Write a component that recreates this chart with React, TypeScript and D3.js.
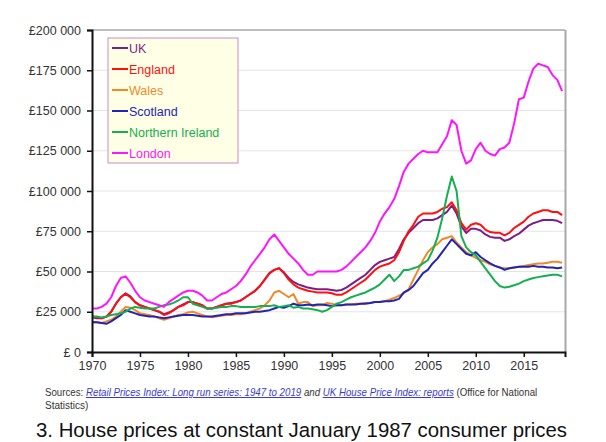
import React, { useEffect, useRef } from 'react';
import * as d3 from 'd3';

// half-yearly readings, 1970.0 .. 2019.0, £ thousands at Jan 1987 prices
const years = d3.range(1970, 2019.01, 0.5);

const uk = [
  21.5, 21, 21, 22, 25, 30, 34, 36.5, 34.5, 31,
  29, 28, 27, 26, 25, 23.5, 24.5, 26, 28, 29.5,
  31, 31, 30, 29, 27, 27, 28, 29, 30, 30.5,
  31, 32, 34, 36, 38, 41, 45, 49, 51, 52,
  49.5, 46, 43.5, 42, 41, 40, 39.5, 39, 39, 39,
  38.5, 38, 38.5, 40, 42, 44, 46, 48, 51, 54,
  56, 57, 58, 59, 64, 70, 74, 77, 80, 82,
  82, 82, 83, 85, 87, 91, 86, 78, 74, 76.5,
  76.5, 75.5, 73, 71.5, 71, 71, 69, 70, 72, 73.5,
  76, 78.5, 80, 81, 82, 82, 82, 81.5, 80,
];
const england = [
  22, 21.5, 21, 22, 25, 30, 34, 36, 34, 31,
  29, 28, 27, 26, 25, 23, 24, 26, 28, 29,
  31, 31, 30, 29, 27, 27, 28, 29, 30, 30,
  31, 32, 34, 36, 38, 41, 45, 49, 51, 52,
  49, 45, 42, 40, 39, 38, 37.5, 37, 37, 37,
  36.5, 35.5, 35.5, 37, 39, 41, 43, 45, 48, 51,
  53, 54, 55, 57, 62, 69, 75, 79, 84, 86,
  86, 86, 87, 89, 90, 93, 88, 80, 76, 79,
  80, 79, 76, 74.5, 74, 74, 72.5, 74, 77, 79,
  81, 84, 86, 87, 88, 88, 87, 87, 85,
];
const wales = [
  18.5, 18.5, 18, 19, 20, 22, 25, 28, 27.5, 26,
  24, 23.5, 23, 22, 21, 20, 21, 22, 23, 23.5,
  24.5, 25, 24, 23, 22, 21.5, 22, 22.5, 23, 23,
  23.5, 23.5, 24, 25, 26, 27, 29, 32, 37, 38,
  36, 34, 36, 30, 31, 31, 28.5, 29, 29, 30.5,
  30, 29, 29, 29.5, 29.5, 30, 30, 30.5, 30.5, 31,
  31, 31.5, 32.5, 33.5, 35, 36.5, 39, 45, 51, 57,
  62, 65, 67, 70, 71, 72, 68, 65, 62, 60,
  58.5, 57, 56, 54.5, 53.5, 52.5, 52, 52, 52.5, 53,
  53.5, 54, 54.5, 55, 55, 55.5, 56, 56, 55.5,
];
const scotland = [
  18.5, 18.5, 18, 17.5, 19, 21, 23, 26, 25, 24,
  23, 22.5, 22, 22, 21.5, 21, 21.5, 22, 22.5, 23,
  23, 23, 22.5, 22, 22, 22, 22.5, 23, 23.5, 23.5,
  24, 24, 24, 24.5, 25, 25, 25.5, 26, 27, 28,
  27.5, 28.5, 30, 29, 29, 29.5, 29, 29.5, 29.5, 29,
  28.5, 29, 29, 29.5, 29.5, 29.5, 30, 30, 30.5, 31,
  31, 31.5, 31.5, 32, 33, 37, 38.5, 41, 45, 49,
  51, 55, 58, 62, 66, 70, 67, 64, 61, 60,
  62, 59, 57, 55, 53.5, 52.5, 51, 52, 52.5, 53,
  53, 53, 53.5, 53, 53, 52.5, 52.5, 52, 52.5,
];
const northernIreland = [
  22, 22, 21.5, 22, 23, 23.5, 24, 25, 27, 28,
  27.5, 27, 27, 27, 28, 29, 29.5, 30.5, 32, 34,
  34, 30, 29, 28, 27, 27, 27.5, 28, 28, 28.5,
  28.5, 28, 28, 28, 28, 28.5, 28.5, 28.5, 29, 28,
  28.5, 29, 27.5, 28, 27, 27, 26.5, 26, 25, 26,
  28, 30, 31, 32.5, 34, 35, 36, 37, 38.5, 40,
  42, 45, 48, 44, 47, 51, 51, 52, 53, 55,
  57, 63, 71, 83, 97, 109, 100, 72, 65, 62,
  60, 56, 52, 48, 44, 41, 40, 40.5, 41.5, 42.5,
  44, 45, 46, 46.5, 47, 47.5, 48, 48, 47,
];
const london = [
  27, 27, 28, 30, 34, 41, 46, 47, 43, 38,
  34, 32, 31, 30, 29, 28, 31, 33, 35, 37,
  38, 38, 37, 35, 32, 32, 34, 36, 37, 39,
  41, 44, 48, 53, 57, 61, 65, 70, 73, 69,
  65, 61, 58, 55, 51, 48, 48, 50, 50, 50,
  50, 50, 51, 53, 56, 59, 62, 65, 69, 74,
  81, 86, 90, 95, 103, 112, 117, 120, 123, 125,
  124, 124, 124, 129, 134, 144, 141, 125, 117, 119,
  126, 130, 125, 123, 122, 126, 127, 130, 142, 157,
  158, 168, 176, 179, 178, 177, 172, 169, 162,
];

const seriesNames = ['UK', 'England', 'Wales', 'Scotland', 'Northern Ireland', 'London'];
const seriesValues = [uk, england, wales, scotland, northernIreland, london];
const seriesColors = ['#7b1f86', '#ff1010', '#ee8a2a', '#2424b4', '#14b050', '#ff14ff'];

const yTicks = [0, 25000, 50000, 75000, 100000, 125000, 150000, 175000, 200000];
const xTicks = [1970, 1975, 1980, 1985, 1990, 1995, 2000, 2005, 2010, 2015];

const fmtMoney = (v: number) =>
  v === 0 ? '£ 0' : '£' + d3.format(',')(v).replace(/,/g, ' ');

const FONT = 'Liberation Sans, Arial, sans-serif';

const App = () => {
  const ref = useRef<SVGSVGElement>(null);

  useEffect(() => {
    const margin = { left: 92, top: 30, right: 41, bottom: 90 };
    const W = 606, H = 442;
    const svg = d3.select(ref.current);
    svg.selectAll('*').remove();

    const x = d3.scaleLinear().domain([1970, 2019.3]).range([margin.left, W - margin.right]);
    const y = d3.scaleLinear().domain([0, 200000]).range([H - margin.bottom, margin.top]);

    // gridlines
    svg.append('g')
      .selectAll('line')
      .data(yTicks.slice(1, -1))
      .join('line')
      .attr('x1', x(1970)).attr('x2', x(2019.3))
      .attr('y1', d => y(d)).attr('y2', d => y(d))
      .attr('stroke', '#e4e4e4').attr('stroke-width', 1);

    // top / right frame
    svg.append('line')
      .attr('x1', x(1970)).attr('x2', x(2019.3))
      .attr('y1', y(200000)).attr('y2', y(200000))
      .attr('stroke', '#a8a8a8').attr('stroke-width', 1.5);
    svg.append('line')
      .attr('x1', x(2019.3) + 0.5).attr('x2', x(2019.3) + 0.5)
      .attr('y1', y(200000)).attr('y2', y(0))
      .attr('stroke', '#a8a8a8').attr('stroke-width', 2);

    // lines
    const line = d3.line<number>()
      .x((_, i) => x(years[i]))
      .y(d => y(d * 1000));
    seriesValues.forEach((vals, i) => {
      svg.append('path')
        .datum(vals)
        .attr('d', line)
        .attr('fill', 'none')
        .attr('stroke', seriesColors[i])
        .attr('stroke-width', 2)
        .attr('stroke-linejoin', 'round');
    });

    // y axis
    const yAxis = svg.append('g')
      .attr('transform', `translate(${margin.left}, 0)`)
      .call(d3.axisLeft(y).tickValues(yTicks).tickFormat(d => fmtMoney(+d)).tickSize(5).tickPadding(6));
    yAxis.select('.domain').attr('stroke', '#111').attr('stroke-width', 2);
    yAxis.selectAll('.tick line').attr('stroke', '#111').attr('stroke-width', 1.5);
    yAxis.selectAll('text')
      .attr('font-family', FONT)
      .attr('font-size', 12.5)
      .attr('fill', '#333');

    // x axis
    const xAxis = svg.append('g')
      .attr('transform', `translate(0, ${H - margin.bottom})`)
      .call(d3.axisBottom(x).tickValues(xTicks).tickFormat(d3.format('d')).tickSize(5).tickPadding(4));
    xAxis.select('.domain').attr('stroke', '#111').attr('stroke-width', 2);
    xAxis.selectAll('.tick line').attr('stroke', '#111').attr('stroke-width', 1.5);
    xAxis.selectAll('text')
      .attr('font-family', FONT)
      .attr('font-size', 12.5)
      .attr('fill', '#333');

    // legend
    const lg = svg.append('g').attr('transform', 'translate(108, 38)');
    lg.append('rect')
      .attr('width', 130).attr('height', 125)
      .attr('fill', '#ffffe6').attr('stroke', '#c98cc9').attr('stroke-width', 1);
    seriesNames.forEach((name, i) => {
      const cy = 10 + i * 21;
      lg.append('line')
        .attr('x1', 4).attr('x2', 20).attr('y1', cy).attr('y2', cy)
        .attr('stroke', seriesColors[i]).attr('stroke-width', 2);
      lg.append('text')
        .attr('x', 21).attr('y', cy + 4.5)
        .attr('font-family', FONT)
        .attr('font-size', 12.5)
        .attr('fill', seriesColors[i])
        .text(name);
    });

    // sources: squeezed horizontally to the reference width
    const srcG = svg.append('g');
    const src = srcG.append('text')
      .attr('x', 0).attr('y', 0)
      .attr('font-family', FONT)
      .attr('font-size', 10)
      .attr('fill', '#333');
    src.append('tspan').text('Sources:  ');
    src.append('tspan').attr('fill', '#3a3ad0').attr('font-style', 'italic').attr('text-decoration', 'underline')
      .text('Retail Prices Index: Long run series: 1947 to 2019');
    src.append('tspan').attr('font-style', 'italic').text(' and ');
    src.append('tspan').attr('fill', '#3a3ad0').attr('font-style', 'italic').attr('text-decoration', 'underline')
      .text('UK House Price Index: reports');
    src.append('tspan').text(' (Office for National');
    const len = (src.node() as SVGTextElement).getComputedTextLength() || 493;
    srcG.attr('transform', `translate(45, 396) scale(${493 / len}, 1)`);
    svg.append('text')
      .attr('x', 45).attr('y', 409)
      .attr('font-family', FONT)
      .attr('font-size', 10)
      .attr('fill', '#333')
      .text('Statistics)');

    // caption
    svg.append('text')
      .attr('x', 36).attr('y', 437)
      .attr('font-family', FONT)
      .attr('font-size', 20.5)
      .attr('fill', '#111')
      .attr('textLength', 531)
      .attr('lengthAdjust', 'spacingAndGlyphs')
      .text('3. House prices at constant January 1987 consumer prices');
  }, []);

  return (
    <svg ref={ref} width={606} height={442}
      style={{ position: 'absolute', left: 0, top: 0, background: '#fff' }} />
  );
};

export default App;
